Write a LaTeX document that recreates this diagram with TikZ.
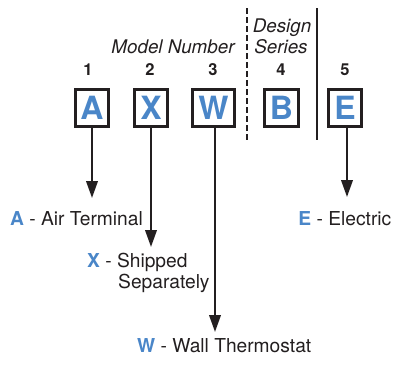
\documentclass[tikz,border=0pt]{standalone}
\usepackage{fontspec}
\setmainfont{TeX Gyre Heros}
\usetikzlibrary{arrows.meta}
\definecolor{codeblue}{RGB}{74,134,200}
\definecolor{ink}{RGB}{35,31,32}
\begin{document}
\begin{tikzpicture}[x=1pt,y=-1pt,
  letterbox/.style={draw=ink,line width=2.6pt,minimum width=33.5pt,minimum height=37.5pt,inner sep=0pt,
    text=codeblue,font=\fontsize{32}{32}\selectfont\bfseries},
  numlbl/.style={anchor=base,text=ink,font=\fontsize{16.5}{16.5}\selectfont\bfseries},
  titlelbl/.style={anchor=base,text=ink,font=\fontsize{18.8}{18.8}\selectfont\itshape},
  desc/.style={anchor=base west,text=ink,inner sep=0pt,font=\fontsize{19.2}{21}\selectfont},
  arr/.style={draw=ink,line width=2.2pt,-{Triangle[length=17pt,width=11.5pt]}},
  divider/.style={draw=ink,line width=2pt}]
\useasboundingbox (0,0) rectangle (393,370);
% boxes
\node[letterbox] (bA) at (92,108) {A};
\node[letterbox] (bX) at (151,108) {X};
\node[letterbox,minimum width=42.5pt] (bW) at (213.5,108) {W};
\node[letterbox] (bB) at (281.5,108) {B};
\node[letterbox] (bE) at (345,108) {E};
% numbers
\node[numlbl] (n1) at (88,75) {1};
\node[numlbl] (n2) at (150,75) {2};
\node[numlbl] (n3) at (213,75) {3};
\node[numlbl] (n4) at (281,75) {4};
\node[numlbl] (n5) at (345,75) {5};
% titles
\node[titlelbl] (model) at (173,53) {Model Number};
\node[titlelbl] (design) at (282,32) {Design};
\node[titlelbl] (series) at (281,53) {Series};
% dividers
\coordinate (d1t) at (247,8);
\coordinate (d1b) at (247,140);
\coordinate (d2t) at (317,8);
\coordinate (d2b) at (317,140);
\draw[divider,dash pattern=on 6pt off 3pt] (d1t) -- (d1b);
\draw[divider] (d2t) -- (d2b);
% arrow ends
\coordinate (tA) at (92,198);
\coordinate (tX) at (151,247);
\coordinate (tW) at (215,332);
\coordinate (tE) at (347,197);
\draw[arr] (bA.south -| tA) -- (tA);
\draw[arr] (bX.south -| tX) -- (tX);
\draw[arr] (bW.south -| tW) -- (tW);
\draw[arr] (bE.south -| tE) -- (tE);
% descriptions
\node[desc] (dA) at (10,225) {\textcolor{codeblue}{\bfseries A} - Air Terminal};
\node[desc] (dX) at (87,267) {\textcolor{codeblue}{\bfseries X} - Shipped};
\node[desc] (dX2) at (118,288) {Separately};
\node[desc] (dW) at (137,352) {\textcolor{codeblue}{\bfseries W} - Wall Thermostat};
\node[desc,anchor=base east] (dE) at (391.5,225) {\textcolor{codeblue}{\bfseries E} - Electric};
\end{tikzpicture}
\end{document}
